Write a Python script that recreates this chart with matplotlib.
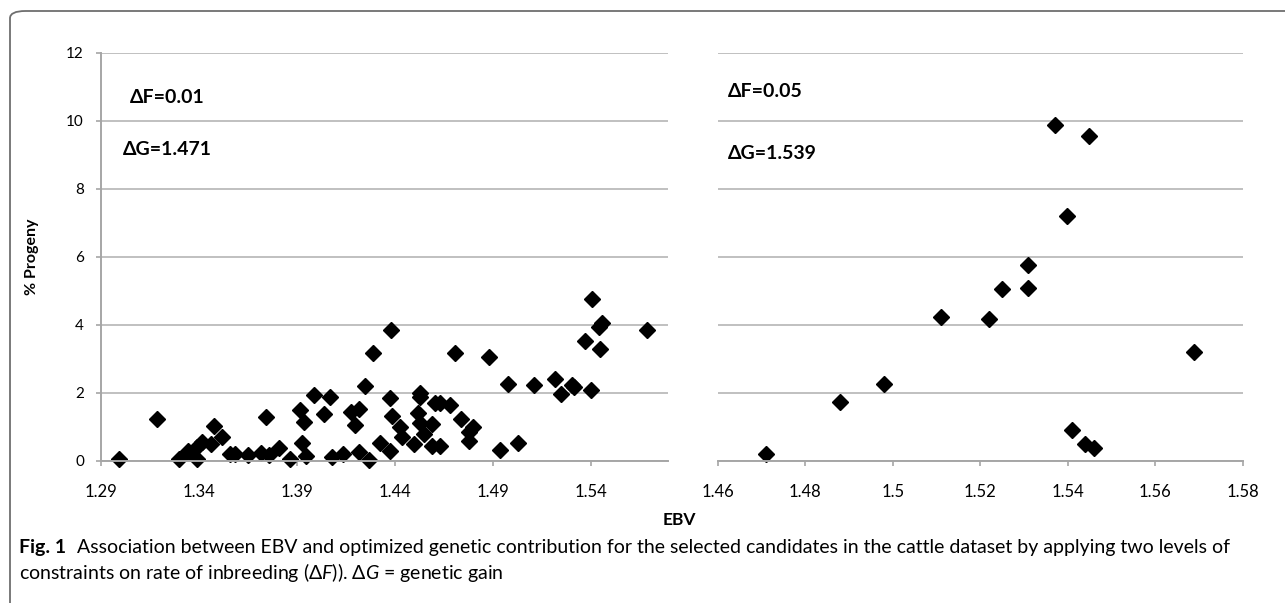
import matplotlib
matplotlib.use("Agg")
import matplotlib.pyplot as plt
from matplotlib.patches import FancyBboxPatch

# ---- data ----
ebv_low = [1.2995, 1.3188, 1.3299, 1.3346, 1.3389, 1.3392, 1.3417, 1.3460, 1.3478, 1.3516,
           1.3558, 1.3587, 1.3649, 1.3716, 1.3740, 1.3759, 1.3808, 1.3867, 1.3915, 1.3937,
           1.3928, 1.3945, 1.3988, 1.4037, 1.4067, 1.4079, 1.4135, 1.4178, 1.4217, 1.4196,
           1.4217, 1.4246, 1.4268, 1.4288, 1.4326, 1.4382, 1.4377, 1.4377, 1.4385, 1.4425,
           1.4438, 1.4497, 1.4517, 1.4529, 1.4529, 1.4529, 1.4548, 1.4587, 1.4587, 1.4606,
           1.4628, 1.4628, 1.4679, 1.4707, 1.4734, 1.4777, 1.4777, 1.4797, 1.4877, 1.4937,
           1.4978, 1.5027, 1.5107, 1.5217, 1.5247, 1.5303, 1.5310, 1.5366, 1.5397, 1.5405,
           1.5439, 1.5456, 1.5446, 1.5685]
prog_low = [0.05, 1.22, 0.07, 0.29, 0.07, 0.42, 0.57, 0.50, 1.03, 0.71,
            0.21, 0.21, 0.17, 0.23, 1.28, 0.18, 0.39, 0.07, 1.50, 1.16,
            0.52, 0.15, 1.94, 1.38, 1.89, 0.13, 0.21, 1.44, 1.53, 1.06,
            0.27, 2.20, 0.03, 3.16, 0.54, 3.86, 1.84, 0.30, 1.32, 0.99,
            0.71, 0.50, 1.40, 1.11, 2.00, 1.87, 0.78, 1.08, 0.44, 1.71,
            1.69, 0.44, 1.64, 3.18, 1.22, 0.59, 0.86, 0.99, 3.05, 0.32,
            2.26, 0.52, 2.23, 2.41, 1.97, 2.23, 2.18, 3.52, 2.10, 4.77,
            3.94, 4.04, 3.29, 3.84]

ebv_high = [1.4711, 1.4880, 1.4981, 1.5110, 1.5219, 1.5250, 1.5310, 1.5310,
            1.5371, 1.5449, 1.5399, 1.5689, 1.5409, 1.5439, 1.5460]
prog_high = [0.20, 1.72, 2.25, 4.22, 4.18, 5.06, 5.09, 5.75,
             9.87, 9.55, 7.19, 3.19, 0.90, 0.49, 0.39]

xticks_low = [1.29, 1.34, 1.39, 1.44, 1.49, 1.54]
xticks_high = [1.46, 1.48, 1.50, 1.52, 1.54, 1.56, 1.58]
xlabels_high = ['1.46', '1.48', '1.5', '1.52', '1.54', '1.56', '1.58']
yticks = [0, 2, 4, 6, 8, 10, 12]

FAM = ['Lato', 'DejaVu Sans']
plt.rcParams['font.family'] = FAM
plt.rcParams['mathtext.fontset'] = 'custom'
plt.rcParams['mathtext.rm'] = 'Lato'
plt.rcParams['mathtext.it'] = 'Lato:italic'

W, H = 1285, 603
fig = plt.figure(figsize=(W / 100, H / 100), dpi=100)

def px_axes(x0, x1, y0, y1):
    # pixel box (top-left origin) -> figure fraction
    return fig.add_axes([x0 / W, 1 - y1 / H, (x1 - x0) / W, (y1 - y0) / H])

GRID = '#c0c0c0'
AXC = '#a6a6a6'

def style(ax, xt, xl, xlim, show_y):
    ax.set_xlim(*xlim)
    ax.set_ylim(0, 12)
    ax.set_yticks(yticks)
    ax.set_xticks(xt)
    ax.set_xticklabels(xl)
    ax.grid(axis='y', color=GRID, linewidth=1.4)
    ax.set_axisbelow(True)
    for s in ['top', 'right']:
        ax.spines[s].set_visible(False)
    ax.spines['bottom'].set_color(AXC)
    ax.spines['bottom'].set_linewidth(1.4)
    ax.tick_params(axis='x', direction='out', length=3.6, width=1.2, color=AXC,
                   labelsize=12, pad=13)
    if show_y:
        ax.spines['left'].set_color(AXC)
        ax.spines['left'].set_linewidth(1.4)
        ax.tick_params(axis='y', direction='out', length=3.6, width=1.2, color=AXC,
                       labelsize=11, pad=8.5)
    else:
        ax.spines['left'].set_visible(False)
        ax.tick_params(axis='y', length=0, labelleft=False)

ax1 = px_axes(100.7, 667.7, 52.5, 461)
ax2 = px_axes(717.7, 1242.7, 52.5, 461)

style(ax1, xticks_low, [f'{t:.2f}' for t in xticks_low], (1.29, 1.579), True)
style(ax2, xticks_high, xlabels_high, (1.46, 1.58), False)

ax1.plot(ebv_low, prog_low, 'D', color='black', markersize=8.5, clip_on=False)
ax2.plot(ebv_high, prog_high, 'D', color='black', markersize=8.5, clip_on=False)

ax1.text(1.305, 10.67, 'ΔF=0.01', fontsize=14, fontweight='bold', va='center')
ax1.text(1.3014, 9.15, 'ΔG=1.471', fontsize=14, fontweight='bold', va='center')
ax2.text(1.4624, 10.85, 'ΔF=0.05', fontsize=14, fontweight='bold', va='center')
ax2.text(1.4624, 9.02, 'ΔG=1.539', fontsize=14, fontweight='bold', va='center')

ax1.set_ylabel('% Progeny', fontsize=11.5, fontweight='bold')
ax1.yaxis.set_label_coords(-0.108, 0.5)
fig.text(679 / W, 1 - 520 / H, 'EBV', fontsize=12.5, fontweight='bold',
         ha='center', va='center')

# caption
cap_y1 = 1 - 548 / H
cap_y2 = 1 - 572 / H
t0 = fig.text(19 / W, cap_y1, 'Fig. 1', fontsize=14, fontweight='bold', va='center')
fig.canvas.draw()
bb = t0.get_window_extent()
fig.text((bb.x1 + 11) / W, cap_y1,
         'Association between EBV and optimized genetic contribution for the selected '
         'candidates in the cattle dataset by applying two levels of',
         fontsize=14, va='center')
fig.text(19 / W, cap_y2,
         r'constraints on rate of inbreeding ($\Delta F$)). $\Delta G$ = genetic gain',
         fontsize=14, va='center')

# open frame round the figure
frame = FancyBboxPatch((10 / W, -0.05), 1.2, 1 - 11 / H + 0.05,
                       boxstyle='round,pad=0,rounding_size=0.012',
                       transform=fig.transFigure, fill=False,
                       edgecolor='#6e6e6e', linewidth=1.3, clip_on=False)
fig.add_artist(frame)

fig.savefig('out.png', dpi=100)
